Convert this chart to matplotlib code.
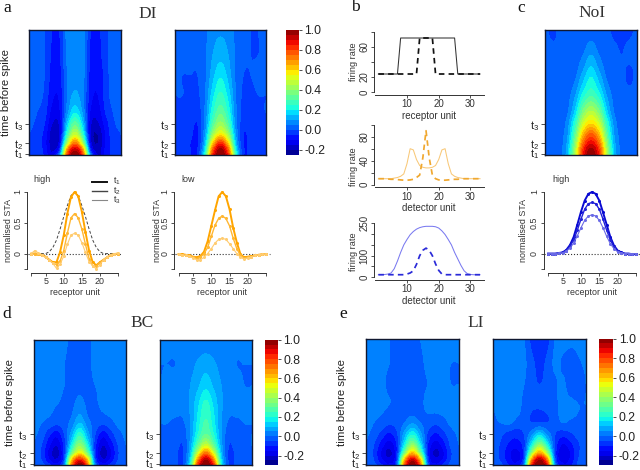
import numpy as np
import matplotlib
matplotlib.use("Agg")
import matplotlib.pyplot as plt
from matplotlib.transforms import ScaledTranslation

plt.rcParams['font.family'] = ['Liberation Sans', 'DejaVu Sans']
plt.rcParams['mathtext.fontset'] = 'custom'
plt.rcParams['mathtext.rm'] = 'Liberation Sans'
plt.rcParams['mathtext.it'] = 'Liberation Sans'
plt.rcParams['mathtext.default'] = 'regular'

W, H = 640, 470

# ---------- data ----------
map_units = [1, 3, 5, 7, 9, 11, 13, 15, 17, 19, 21, 23, 25]
map_times = [0, 5, 12, 20, 31, 42, 60, 80, 100, 125]
time_ticks = [1, 12, 31]
time_labels = ['t$_1$', 't$_2$', 't$_3$']

di_high_map = [
    [0, -.01, -.06, -.14, .08, .78, 1.0, .78, .08, -.16, -.09, -.03, 0],
    [0, -.01, -.07, -.16, -.04, .68, .93, .68, -.04, -.18, -.09, -.03, 0],
    [0, -.02, -.08, -.18, -.12, .42, .72, .42, -.12, -.2, -.1, -.03, 0],
    [0, -.02, -.07, -.18, -.15, .26, .5, .26, -.15, -.2, -.1, -.02, 0],
    [.01, -.01, -.05, -.15, -.14, .15, .33, .15, -.14, -.16, -.08, -.01, .01],
    [.02, 0, -.03, -.12, -.11, .08, .2, .09, -.11, -.13, -.05, 0, .02],
    [.03, .02, -.01, -.09, -.09, .05, .11, .06, -.08, -.1, -.03, .02, .02],
    [.02, .02, 0, -.07, -.07, .05, .09, .07, -.07, -.09, -.03, .03, .02],
    [.02, .02, 0, -.06, -.06, .06, .09, .07, -.06, -.07, -.02, .03, .02],
    [.02, .02, 0, -.05, -.05, .07, .09, .08, -.05, -.06, -.02, .03, .02],
]
di_low_map = [
    [-.01, -.02, -.05, -.05, .25, .82, 1, .82, .25, -.04, -.03, -.02, -.01],
    [-.01, -.02, -.05, -.05, .2, .75, .97, .75, .2, -.04, -.03, -.02, -.01],
    [-.01, -.02, -.05, -.06, .14, .58, .82, .58, .14, -.05, -.03, -.02, -.01],
    [-.01, -.02, -.04, -.06, .1, .42, .58, .42, .1, -.05, -.03, -.02, -.01],
    [0, -.01, -.03, -.05, .07, .3, .42, .3, .07, -.03, -.03, -.02, -.01],
    [0, -.01, -.02, -.03, .06, .24, .34, .24, .06, -.02, -.02, -.01, 0],
    [0, 0, -.01, -.01, .05, .18, .26, .18, .05, -.01, -.01, 0, 0],
    [.01, 0, 0, 0, .04, .13, .19, .13, .04, 0, 0, .01, .01],
    [.02, .02, .01, .01, .04, .1, .13, .1, .04, .01, 0, 0, .01],
    [.02, .01, .01, .01, .04, .08, .09, .08, .04, .01, 0, 0, .01],
]
noi_map = [
    [.01, .01, .03, .15, .48, .85, 1, .85, .48, .15, .03, .01, .01],
    [.01, .01, .03, .14, .45, .82, .97, .82, .45, .14, .03, .01, .01],
    [.01, .01, .03, .12, .4, .74, .88, .74, .4, .12, .03, .01, .01],
    [.01, .01, .03, .1, .34, .64, .77, .64, .34, .1, .03, .01, .01],
    [.01, .01, .02, .08, .26, .5, .6, .5, .26, .08, .02, .01, .01],
    [.01, .01, .02, .05, .18, .38, .47, .38, .18, .05, .02, .01, .01],
    [.01, .01, .01, .03, .1, .22, .29, .22, .1, .03, .01, .01, .01],
    [.01, .01, .01, .01, .04, .12, .19, .12, .04, .01, .01, -.01, .01],
    [.01, .01, 0, .01, .02, .05, .1, .05, .02, .01, 0, .01, .01],
    [.01, -.01, .01, .01, .01, .01, .01, .01, .01, -.01, -.01, -.01, .01],
]
bc_a_map = [
    [0, -.03, -.08, -.13, .03, .72, 1, .72, .03, -.13, -.08, -.03, 0],
    [0, -.05, -.14, -.19, -.04, .6, .85, .6, -.04, -.19, -.14, -.05, 0],
    [0, -.06, -.17, -.23, -.08, .32, .55, .32, -.08, -.23, -.17, -.06, 0],
    [0, -.05, -.14, -.2, -.08, .18, .38, .18, -.08, -.2, -.14, -.05, 0],
    [.01, -.02, -.09, -.13, -.05, .08, .22, .08, -.05, -.13, -.08, -.02, .01],
    [.01, 0, -.02, -.04, -.02, .02, .1, .02, -.02, -.04, -.02, .01, .01],
    [.02, .02, .01, 0, -.01, -.01, .02, -.01, -.01, .01, .02, .02, .01],
    [0, .02, .01, .01, 0, -.01, -.01, -.01, 0, .01, .02, .01, 0],
    [.02, .03, .03, .02, 0, -.01, -.01, -.01, .01, .03, .03, .01, 0],
    [.02, .02, .03, .03, .01, -.01, -.01, -.01, .01, .02, .02, .01, 0],
]
bc_b_map = [
    [-.01, -.02, -.04, -.06, .2, .82, 1, .82, .2, -.06, -.04, -.02, -.01],
    [-.01, -.02, -.04, -.06, .15, .7, .95, .7, .15, -.06, -.04, -.02, -.01],
    [-.01, -.02, -.04, -.06, .1, .48, .72, .48, .1, -.06, -.04, -.02, -.01],
    [0, -.02, -.03, -.05, .07, .3, .47, .3, .07, -.05, -.03, -.02, 0],
    [0, -.01, -.02, -.03, .05, .2, .3, .2, .05, -.03, -.02, -.01, 0],
    [0, 0, -.01, -.01, .05, .17, .26, .17, .05, -.01, -.01, 0, 0],
    [.01, .02, .02, .02, .06, .14, .22, .14, .06, .02, .02, .01, 0],
    [0, .01, .01, .01, .05, .09, .13, .09, .05, .01, .01, 0, 0],
    [0, 0, 0, .01, .03, .06, .08, .06, .03, .01, 0, 0, 0],
    [.02, .01, .01, .01, .01, .01, .01, .01, .01, .01, .01, .01, .02],
]
li_a_map = [
    [0, -.03, -.09, -.14, -.02, .75, 1, .75, -.02, -.14, -.09, -.03, 0],
    [0, -.05, -.14, -.18, -.07, .62, .92, .62, -.07, -.18, -.14, -.05, 0],
    [0, -.06, -.16, -.22, -.1, .33, .62, .33, -.1, -.22, -.16, -.06, 0],
    [0, -.05, -.13, -.18, -.1, .17, .38, .17, -.1, -.18, -.13, -.04, 0],
    [.01, -.02, -.07, -.11, -.06, .07, .18, .07, -.06, -.11, -.07, -.02, .01],
    [.02, 0, -.02, -.04, -.03, 0, .04, 0, -.02, -.04, -.02, .01, .02],
    [.02, .02, .01, 0, -.01, -.01, -.02, -.01, .01, .02, .02, .01, .01],
    [.02, .01, .01, -.01, -.01, -.01, -.01, -.01, 0, .01, .01, 0, 0],
    [.01, .02, .01, 0, -.01, -.01, -.01, -.01, .01, .02, .01, 0, 0],
    [0, .01, .01, 0, -.01, -.01, -.01, 0, .02, .02, .01, .02, 0],
]
li_b_map = [
    [-.01, -.04, -.1, -.14, .03, .82, 1, .82, .03, -.14, -.11, -.04, -.01],
    [-.02, -.06, -.13, -.16, -.04, .68, .95, .68, -.04, -.17, -.14, -.05, -.02],
    [-.02, -.07, -.14, -.17, -.07, .38, .65, .38, -.07, -.2, -.15, -.06, -.02],
    [-.02, -.06, -.11, -.13, -.07, .18, .38, .18, -.07, -.16, -.12, -.06, -.02],
    [-.01, -.04, -.07, -.08, -.05, .03, .12, .03, -.05, -.08, -.06, -.03, -.01],
    [-.01, 0, .01, -.02, -.03, -.05, -.05, -.05, -.03, 0, -.01, -.01, -.01],
    [0, .02, .03, .03, -.02, -.04, -.04, -.03, -.01, .01, .01, 0, 0],
    [0, .01, .04, .02, 0, -.04, -.05, -.04, -.01, .01, -.03, -.03, 0],
    [.03, .03, .02, .02, .01, -.04, -.06, -.04, .01, -.01, -.03, -.01, .01],
    [.04, .05, .03, .02, 0, -.07, -.08, -.07, 0, .03, .02, .02, .04],
]

sta_units = list(range(1, 26))
high_t1 = [0, 0, -.01, -.02, -.05, -.1, -.14, -.14, .03, .3, .65, .92, 1, .93, .68, .35, .05, -.14, -.19, -.14, -.1, -.06, -.02, -.01, 0]
high_t2 = [0, 0, -.01, -.03, -.06, -.11, -.15, -.18, -.12, .05, .33, .58, .65, .58, .4, .15, -.08, -.2, -.2, -.15, -.1, -.06, -.03, -.01, 0]
high_t3 = [0, .05, .01, -.03, -.06, -.1, -.16, -.24, -.17, -.04, .15, .3, .33, .3, .18, .02, -.13, -.2, -.25, -.18, -.1, -.05, -.02, 0, .01]
high_rf = [0, 0, 0, 0, 0, .03, .1, .22, .4, .6, .78, .94, 1, .94, .78, .6, .4, .22, .1, .03, 0, 0, 0, 0, 0]
low_t1 = [-.01, -.01, -.02, -.03, -.05, -.06, -.04, .03, .2, .45, .7, .93, 1, .93, .72, .42, .18, -.01, -.06, -.05, -.04, -.03, -.02, -.01, -.01]
low_t2 = [-.01, -.02, -.03, -.04, -.06, -.08, -.06, 0, .1, .28, .46, .57, .61, .57, .45, .25, .08, -.03, -.07, -.06, -.05, -.03, -.02, -.01, -.01]
low_t3 = [-.01, -.02, -.03, -.04, -.07, -.1, -.1, -.06, 0, .08, .17, .23, .25, .23, .16, .08, 0, -.06, -.09, -.07, -.05, -.03, -.02, -.01, -.01]
noi_t1 = [0, 0, 0, .01, .02, .06, .14, .27, .47, .68, .86, .97, 1, .97, .86, .67, .47, .27, .13, .05, .02, 0, 0, -.01, -.01]
noi_t2 = [0, 0, 0, .01, .02, .05, .12, .22, .38, .56, .72, .81, .83, .81, .72, .56, .38, .22, .1, .04, .01, 0, 0, -.01, -.01]
noi_t3 = [0, 0, 0, .01, .01, .04, .09, .17, .29, .42, .54, .61, .63, .61, .54, .42, .28, .16, .08, .03, .01, 0, 0, 0, 0]

rate_units = list(range(1, 34))
receptor_solid = [24]*7 + [72]*18 + [24]*8
receptor_dash = [24]*13 + [72]*5 + [24]*15
detector_solid = [10, 10, 10, 10, 10, 11, 12, 14, 18, 35, 60, 58, 42, 32, 29, 28, 28, 29, 32, 42, 58, 60, 35, 18, 14, 12, 11, 10, 10, 10, 10, 10, 10]
detector_dash = [10, 10, 10, 9.5, 9, 9, 8.5, 8, 7.5, 7.5, 8, 9, 12, 16, 45, 90, 45, 16, 10, 8, 7.5, 7.5, 8, 8.5, 9, 9, 9.5, 10, 10, 10, 10, 10, 10]
blue_solid = [12, 12, 13, 15, 20, 40, 75, 115, 150, 175, 197, 212, 223, 230, 234, 236, 236, 236, 234, 228, 215, 198, 175, 150, 115, 85, 55, 30, 17, 13, 12, 12, 12]
blue_dash = [12, 12, 12, 12, 12, 12, 12, 12, 12, 15, 20, 30, 60, 100, 125, 135, 125, 100, 62, 32, 15, 12, 12, 12, 12, 12, 12, 12, 12, 12, 12, 12, 12]

cbar_ticks = [-0.2, 0.0, 0.2, 0.4, 0.6, 0.8, 1.0]

# ---------- helpers ----------
fig = plt.figure(figsize=(W/100, H/100), dpi=100)
PT = 72/100


def axpx(x0, ytop, x1, ybot):
    return fig.add_axes([x0/W, 1-ybot/H, (x1-x0)/W, (ybot-ytop)/H])


def tx(x, y, s, **kw):
    kw.setdefault('ha', 'center')
    kw.setdefault('va', 'center')
    fig.text(x/W, 1-y/H, s, **kw)


def hermite(x, y, xn):
    """Smooth contouring of one row of a field: cubic through the read values."""
    x = np.asarray(x, float)
    m = np.gradient(y, x)
    i = np.clip(np.searchsorted(x, xn, side='right')-1, 0, len(x)-2)
    h = x[i+1]-x[i]
    s = (xn-x[i])/h
    return ((2*s**3-3*s**2+1)*y[i] + (s**3-2*s**2+s)*h*m[i]
            + (-2*s**3+3*s**2)*y[i+1] + (s**3-s**2)*h*m[i+1])


def heat(box, data, vmin):
    ax = axpx(*box)
    z = np.array(data, float)
    xn = np.linspace(1, 25, 145)
    yn = np.linspace(0, 125, 126)
    z = np.array([hermite(map_units, r, xn) for r in z])
    z = np.array([hermite(map_times, c, yn) for c in z.T]).T
    ax.contourf(xn, yn, z, levels=np.arange(vmin, 1.0001, .05), cmap='jet', extend='both')
    ax.set_xlim(1, 25)
    ax.set_ylim(0, 125)
    ax.set_xticks([])
    for s in ax.spines.values():
        s.set_linewidth(1.0)
        s.set_color('#101830')
    ax.set_yticks(time_ticks)
    ax.set_yticklabels(time_labels, fontsize=7.8, color='#222222')
    ax.tick_params(axis='y', length=3, width=.6, pad=1.5, color='#333333')
    lab = ax.get_yticklabels()[0]
    lab.set_transform(lab.get_transform() + ScaledTranslation(0, 1.5/72, fig.dpi_scale_trans))


def cbar(box, vmin):
    ax = axpx(*box)
    levels = np.arange(vmin, 1.0001, .05)
    cols = plt.get_cmap('jet')((levels[:-1]+.025-vmin)/(1-vmin))
    ax.bar(np.zeros(len(cols)), np.diff(levels), bottom=levels[:-1], width=1, color=cols, linewidth=0)
    ax.set_xlim(-.5, .5)
    ax.set_ylim(vmin, 1)
    ax.set_xticks([])
    ax.yaxis.tick_right()
    ax.set_yticks(cbar_ticks)
    ax.set_yticklabels([f'{t:.1f}' for t in cbar_ticks], fontsize=8.8, color='#222222')
    ax.tick_params(axis='y', length=2.5, width=.6, pad=1.5, color='#333333')
    for s in ax.spines.values():
        s.set_visible(False)


def raxes(ax, xt, xl, yt, yl, xb, yb, xout, yout, xlabel, fs=6.8):
    for s in ('top', 'right'):
        ax.spines[s].set_visible(False)
    ax.patch.set_alpha(0)
    ax.spines['left'].set_position(('outward', yout*PT))
    ax.spines['bottom'].set_position(('outward', xout*PT))
    ax.spines['left'].set_bounds(*yb)
    ax.spines['bottom'].set_bounds(*xb)
    for s in ('left', 'bottom'):
        ax.spines[s].set_linewidth(.7)
        ax.spines[s].set_color('#333333')
    ax.set_xticks(xt)
    ax.set_xticklabels(xl, fontsize=fs, color='#333333')
    ax.set_yticks(yt)
    ax.set_yticklabels(yl, fontsize=fs, rotation=90, va='center', color='#333333')
    ax.tick_params(length=2, width=.6, pad=1.2, color='#333333')
    ax.set_xlabel(xlabel, fontsize=fs, labelpad=1, color='#333333')


def sta(x0, x1, series, cols, rf=None):
    ax = axpx(x0, 192, x1, 269)
    ax.set_xlim(1, 25)
    ax.set_ylim(-.25, 1)
    ax.plot([0, 26], [0, 0], ':', color='#333333', lw=.8, clip_on=False)
    if rf is not None:
        ax.plot(sta_units, rf, '--', color='#444444', lw=.7, dashes=(3, 2), clip_on=False)
    for vals, c, lw in zip(series, cols, (1.4, 1.0, .8)):
        ax.plot(sta_units, vals, '-', color=c, lw=lw, marker='o', ms=2.2, mew=0, clip_on=False)
    raxes(ax, [1, 5, 10, 15, 20, 25], ['', '5', '10', '15', '20', ''],
          [-.25, 0, .5, 1], ['', '0', '0.5', '1'], (1, 25), (-.25, 1), 3.7, 4.5, 'receptor unit', fs=6.4)
    return ax


def rate(ytop, ybot, ymax, yt, yl, solid, dash, c_solid, c_dash, xlabel):
    ax = axpx(378.4, ytop, 480, ybot)
    ax.set_xlim(1, 33)
    ax.set_ylim(0, ymax)
    ax.plot(rate_units, solid, '-', color=c_solid, lw=.75, clip_on=False)
    ax.plot(rate_units, dash, '--', color=c_dash, lw=1.25, dashes=(3.2, 2.4), clip_on=False)
    raxes(ax, [10, 20, 30], ['10', '20', '30'], yt, yl, (0, 34.3), (0, ymax), 2.7, 4.5, xlabel, fs=7)
    return ax


# ---------- heat maps ----------
heat((29, 30, 121, 155), di_high_map, -.25)
heat((175, 30, 266, 155), di_low_map, -.25)
cbar((286, 30, 299, 155), -.25)
heat((545, 30, 637, 155), noi_map, -.25)
heat((33.7, 339.7, 125.7, 465.3), bc_a_map, -.3)
heat((160, 339.7, 251.7, 465.3), bc_b_map, -.3)
cbar((265, 339.7, 278, 465.3), -.3)
heat((366, 338.5, 458.7, 465.3), li_a_map, -.3)
heat((493.3, 338.5, 586, 465.3), li_b_map, -.3)
cbar((599.3, 338.5, 613.3, 465.3), -.3)

# ---------- STA curves ----------
oranges = ['#ffa500', '#ffb733', '#ffcc70']
sta(31.2, 118, (high_t1, high_t2, high_t3), oranges, high_rf)
sta(178.5, 266, (low_t1, low_t2, low_t3), oranges)
sta(548, 636, (noi_t1, noi_t2, noi_t3), ['#0a0ad2', '#2222d8', '#6a6ae6'])

# ---------- firing rates ----------
rate(32, 92, 80, [0, 20, 40, 60, 80], ['0', '20', '', '60', ''], receptor_solid, receptor_dash,
     '#333333', '#111111', 'receptor unit')
rate(124.7, 184.7, 100, [0, 20, 40, 60, 80, 100], ['0', '', '40', '', '80', ''], detector_solid, detector_dash,
     '#f8c878', '#f0a830', 'detector unit')
rate(223.3, 277.3, 250, [0, 50, 100, 150, 200, 250], ['0', '', '100', '', '', '250'], blue_solid, blue_dash,
     '#7a7af0', '#2a2ad8', 'detector unit')

# ---------- texts ----------
for x, y, s in [(147.7, 14, 'DI'), (592, 13, 'NoI'), (142, 323, 'BC'), (475.7, 323, 'LI')]:
    tx(x, y, s, family='Liberation Serif', fontsize=12.5, color='#333333')
for x, y, s in [(7, 8, 'a'), (355.7, 7, 'b'), (521, 8, 'c'), (7, 314, 'd'), (343, 314, 'e')]:
    tx(x, y, s, family='Liberation Serif', fontsize=12.5, color='#111111')
for x, y in [(6, 93), (10, 403), (341.7, 402)]:
    tx(x, y, 'time before spike', rotation=90, fontsize=8.2, color='#222222')
for x in (9, 157.5, 524):
    tx(x, 230, 'normalised STA', rotation=90, fontsize=6.4, color='#333333')
tx(33, 179, 'high', fontsize=6.5, ha='left', color='#333333')
tx(181.7, 179, 'low', fontsize=6.5, ha='left', color='#333333')
tx(552, 179, 'high', fontsize=6.5, ha='left', color='#333333')
for x, y in [(354, 62), (354, 167), (354, 252)]:
    tx(x, y, 'firing rate', rotation=90, fontsize=6.6, color='#333333')

# legend of the high panel
leg_lines = [((92, 107), 181.7, '#111111', 1.4, 't$_1$'),
             ((92, 107), 191, '#444444', 1.0, 't$_2$'),
             ((92, 107), 200, '#888888', .8, 't$_3$')]
for (xa, xb), y, c, lw, s in leg_lines:
    fig.add_artist(plt.Line2D([xa/W, xb/W], [1-y/H, 1-y/H], color=c, lw=lw, transform=fig.transFigure))
    tx(112.7, y, s, fontsize=6.5, ha='left', color='#333333')

fig.savefig('out.png', dpi=100)
